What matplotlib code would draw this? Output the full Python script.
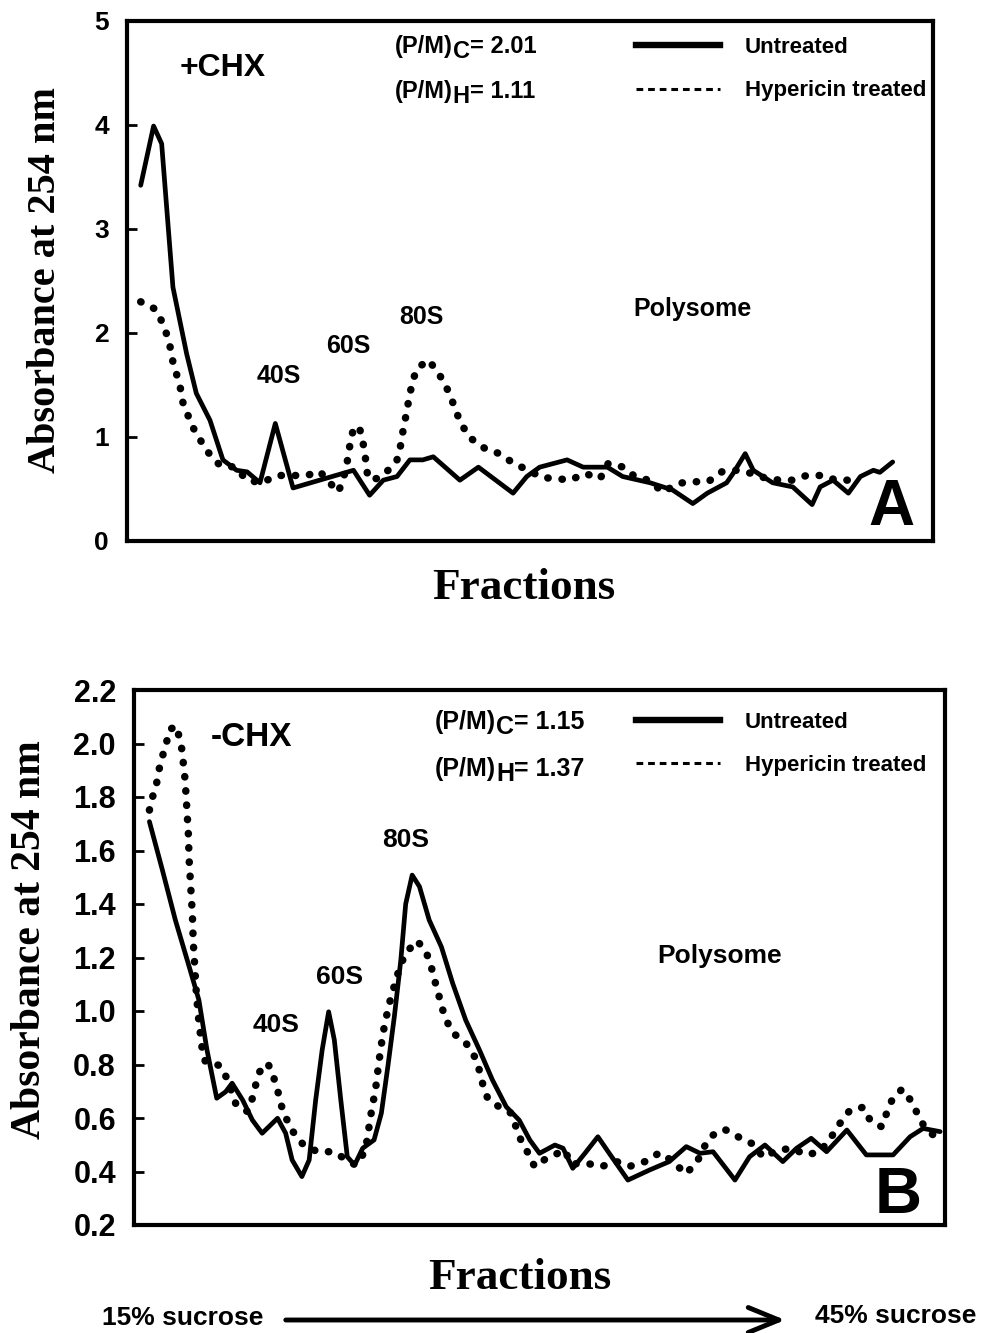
import matplotlib
matplotlib.use("Agg")
import matplotlib.pyplot as plt
from matplotlib.lines import Line2D

plt.rcParams['font.family'] = 'Liberation Sans'
plt.rcParams['font.weight'] = 'bold'

# position along the gradient (% of axis width) and A254 readings
# panel A: +CHX
a_untreated_x = [1.7, 3.3, 4.3, 5.7, 7.4, 8.6, 10.3, 11.9, 13.6, 14.9, 16.5, 18.4, 20.6, 23.9,
                 28.1, 30.1, 31.8, 33.5, 35.1, 36.7, 38.0, 41.3, 43.6, 47.9, 49.6, 51.2, 54.6,
                 56.6, 59.6, 61.5, 64.9, 67.7, 70.2, 72.0, 74.4, 75.2, 76.7, 77.7, 80.1, 82.6,
                 85.0, 86.0, 87.6, 89.5, 91.0, 92.6, 93.4, 95.0]
a_untreated_y = [3.42, 3.99, 3.82, 2.44, 1.80, 1.42, 1.16, 0.78, 0.68, 0.665, 0.56, 1.13, 0.51, 0.585,
                 0.68, 0.44, 0.585, 0.62, 0.78, 0.78, 0.81, 0.585, 0.71, 0.46, 0.62, 0.71, 0.78,
                 0.71, 0.71, 0.62, 0.56, 0.49, 0.36, 0.46, 0.56, 0.65, 0.84, 0.68, 0.56, 0.52,
                 0.35, 0.52, 0.585, 0.46, 0.62, 0.68, 0.66, 0.76]
a_hyp_x = [1.7, 3.5, 4.4, 5.0, 5.4, 5.7, 6.2, 6.6, 6.9, 7.5, 8.2, 9.1, 10.1, 11.5, 13.4, 14.9,
           16.7, 18.6, 20.4, 22.3, 23.9, 26.2, 26.8, 27.2, 27.5, 27.7, 28.1, 28.8, 29.2, 29.5,
           29.7, 29.9, 31.0, 32.4, 33.5, 33.9, 34.2, 34.5, 34.8, 35.1, 35.4, 36.0, 37.4, 38.6,
           39.5, 40.2, 40.8, 41.5, 42.6, 44.4, 46.2, 48.0, 49.8, 51.5, 53.3, 55.0, 56.8, 58.7,
           59.7, 61.6, 63.0, 64.7, 66.5, 68.4, 70.3, 72.1, 73.8, 75.6, 77.5, 79.4, 81.0, 82.7,
           84.3, 86.2, 88.0, 89.7]
a_hyp_y = [2.30, 2.23, 2.10, 1.97, 1.85, 1.72, 1.59, 1.48, 1.34, 1.22, 1.09, 0.97, 0.85, 0.73, 0.71, 0.585,
           0.56, 0.63, 0.63, 0.63, 0.67, 0.47, 0.585, 0.71, 0.84, 0.95, 1.08, 1.10, 0.98, 0.85,
           0.72, 0.60, 0.60, 0.68, 0.78, 0.90, 1.04, 1.16, 1.29, 1.41, 1.53, 1.66, 1.74, 1.62,
           1.50, 1.38, 1.25, 1.12, 0.99, 0.89, 0.84, 0.745, 0.68, 0.61, 0.60, 0.585, 0.65, 0.60,
           0.745, 0.71, 0.62, 0.585, 0.47, 0.555, 0.57, 0.57, 0.665, 0.68, 0.65, 0.60, 0.585, 0.585,
           0.63, 0.63, 0.585, 0.585]

# panel B: -CHX
b_untreated_x = [1.9, 3.5, 5.1, 6.8, 8.0, 9.0, 10.2, 11.3, 12.1, 13.4, 14.6, 15.8, 17.7, 18.7,
                 19.5, 20.7, 21.6, 22.4, 23.2, 24.0, 24.7, 25.5, 26.3, 27.2, 28.2, 29.6, 30.5,
                 31.3, 32.1, 32.9, 33.5, 34.3, 35.2, 36.4, 37.9, 39.3, 40.9, 42.6, 44.2, 45.9,
                 47.5, 48.8, 50.0, 51.9, 52.9, 54.1, 55.6, 57.2, 58.6, 60.9, 63.6, 66.0, 68.1,
                 69.8, 71.4, 74.1, 75.9, 77.8, 80.0, 81.7, 83.5, 85.4, 87.9, 90.3, 93.6, 95.7,
                 97.3, 99.4]
b_untreated_y = [1.708, 1.527, 1.34, 1.166, 1.041, 0.854, 0.674, 0.698, 0.730, 0.667, 0.592, 0.543, 0.599, 0.543,
                 0.443, 0.381, 0.443, 0.667, 0.854, 0.997, 0.892, 0.667, 0.455, 0.424, 0.487, 0.518, 0.618,
                 0.792, 0.979, 1.19, 1.40, 1.508, 1.465, 1.34, 1.24, 1.103, 0.966, 0.854, 0.742, 0.642,
                 0.592, 0.518, 0.468, 0.499, 0.487, 0.412, 0.468, 0.530, 0.468, 0.368, 0.406, 0.437, 0.493,
                 0.468, 0.474, 0.368, 0.455, 0.499, 0.437, 0.487, 0.524, 0.474, 0.555, 0.462, 0.462, 0.530,
                 0.561, 0.549]
b_hyp_x = [1.9, 2.3, 2.8, 3.1, 3.5, 4.0, 4.4, 5.3, 5.6, 6.0, 6.1, 6.3, 6.4, 6.5, 6.7, 6.8,
           7.0, 7.2, 7.3, 7.5, 7.7, 8.0, 8.4, 8.8, 10.6, 11.5, 12.6, 14.0, 14.6, 15.0, 15.5,
           16.5, 17.2, 17.7, 18.1, 18.7, 19.5, 20.8, 22.6, 24.5, 26.3, 27.3, 28.2, 28.7, 29.2,
           29.8, 30.2, 30.7, 31.4, 32.3, 32.8, 33.5, 34.9, 36.0, 36.6, 37.0, 37.5, 37.9, 38.5,
           39.3, 41.0, 42.0, 42.6, 43.0, 43.6, 45.0, 46.5, 47.1, 47.7, 48.6, 49.4, 50.7, 53.1,
           53.9, 55.8, 57.6, 59.5, 61.2, 63.0, 64.8, 66.5, 68.0, 69.4, 70.2, 71.2, 72.8, 74.6,
           76.3, 77.6, 79.2, 81.1, 82.9, 84.6, 86.0, 87.0, 88.3, 89.9, 90.8, 92.2, 92.8, 93.5,
           94.7, 95.9, 96.7, 97.5, 99.0]
b_hyp_y = [1.751, 1.801, 1.853, 1.904, 1.951, 2.003, 2.053, 2.065, 2.016, 1.966, 1.916, 1.866, 1.816, 1.764, 1.664, 1.564,
           1.461, 1.361, 1.262, 1.162, 1.06, 0.96, 0.86, 0.81, 0.796, 0.746, 0.649, 0.624, 0.674, 0.723, 0.773,
           0.805, 0.754, 0.705, 0.652, 0.603, 0.553, 0.503, 0.474, 0.474, 0.443, 0.424, 0.462, 0.511, 0.611,
           0.711, 0.810, 0.917, 1.019, 1.116, 1.166, 1.216, 1.263, 1.222, 1.172, 1.122, 1.07, 1.019, 0.966,
           0.919, 0.877, 0.829, 0.777, 0.727, 0.674, 0.642, 0.618, 0.567, 0.518, 0.468, 0.418, 0.446, 0.480,
           0.428, 0.431, 0.418, 0.437, 0.42, 0.437, 0.47, 0.437, 0.391, 0.433, 0.487, 0.533, 0.558, 0.528,
           0.503, 0.453, 0.478, 0.487, 0.462, 0.474, 0.530, 0.578, 0.630, 0.640, 0.59, 0.567, 0.618, 0.670,
           0.708, 0.661, 0.609, 0.565, 0.524]

a_ratios = ['2.01', '1.11']
b_ratios = ['1.15', '1.37']
legend_labels = ['Untreated', 'Hypericin treated']

fig = plt.figure(figsize=(9.84, 13.33), dpi=100)

SERIF = 'Liberation Serif'


def pm_text(ax, x, y, sub, value, size):
    t1 = ax.text(x, y, '(P/M)', transform=ax.transAxes, fontsize=size, va='center', ha='left')
    t2 = ax.annotate(sub, xy=(1, 0), xycoords=t1, xytext=(0, -5), textcoords='offset pixels',
                     fontsize=size, va='bottom', ha='left')
    ax.annotate('= ' + value, xy=(1, 0), xycoords=t2, xytext=(0, 5), textcoords='offset pixels',
                fontsize=size, va='bottom', ha='left')


def panel(rect, xs_u, ys_u, xs_h, ys_h, ylim, yticks, ticksize):
    ax = fig.add_axes(rect)
    ax.plot(xs_u, ys_u, color='black', lw=3.4, solid_joinstyle='round', solid_capstyle='round')
    ax.plot(xs_h, ys_h, color='black', lw=5.4, linestyle=(0, (0.05, 1.85)),
            dash_capstyle='round')
    ax.set_xlim(0, 100)
    ax.set_ylim(*ylim)
    ax.set_xticks([])
    ax.set_yticks(yticks)
    ax.tick_params(axis='y', direction='in', length=7, width=2, pad=13, labelsize=ticksize)
    for s in ax.spines.values():
        s.set_linewidth(3)
    return ax


handles = [Line2D([], [], color='black', lw=4.6),
           Line2D([], [], color='black', lw=2.2, linestyle=(0, (2.2, 1.6)))]

# ---- panel A ----
axA = panel([127 / 984, 1 - 541 / 1333, 806 / 984, 520 / 1333],
            a_untreated_x, a_untreated_y, a_hyp_x, a_hyp_y,
            (0, 5), [0, 1, 2, 3, 4, 5], 19)
axA.set_yticklabels(['0', '1', '2', '3', '4', '5'])
axA.text(0.119, 0.910, '+CHX', transform=axA.transAxes, fontsize=23, ha='center', va='center')
pm_text(axA, 0.3325, 0.950, 'C', a_ratios[0], 17)
pm_text(axA, 0.3325, 0.864, 'H', a_ratios[1], 17)
for lab, x, y in [('40S', 0.1886, 0.3167), ('60S', 0.2742, 0.3743), ('80S', 0.3648, 0.4299),
                  ('Polysome', 0.7022, 0.4453)]:
    axA.text(x, y, lab, transform=axA.transAxes, fontsize=18, ha='center', va='center')
axA.text(0.949, 0.063, 'A', transform=axA.transAxes, fontsize=46, ha='center', va='center')
axA.text(0.4926, -0.0902, 'Fractions', transform=axA.transAxes, fontsize=32.5, ha='center',
         va='center', family=SERIF)
axA.text(-0.1017, 0.501, 'Absorbance at 254 nm', transform=axA.transAxes, fontsize=29,
         ha='center', va='center', rotation=90, family=SERIF)
axA.legend(handles, legend_labels, loc='center left', bbox_to_anchor=(0.6315, 0.907),
           frameon=False, fontsize=16, handlelength=3.8, handletextpad=1.1,
           labelspacing=1.0, borderpad=0, borderaxespad=0)

# ---- panel B ----
axB = panel([134 / 984, 1 - 1225 / 1333, 811 / 984, 535 / 1333],
            b_untreated_x, b_untreated_y, b_hyp_x, b_hyp_y,
            (0.2, 2.2), [0.2 + 0.2 * i for i in range(11)], 22)
axB.set_yticklabels(['%.1f' % (0.2 + 0.2 * i) for i in range(11)])
axB.text(0.1443, 0.912, '-CHX', transform=axB.transAxes, fontsize=24, ha='center', va='center')
pm_text(axB, 0.371, 0.940, 'C', b_ratios[0], 18)
pm_text(axB, 0.371, 0.852, 'H', b_ratios[1], 18)
for lab, x, y in [('40S', 0.175, 0.374), ('60S', 0.2528, 0.4636), ('80S', 0.3354, 0.7196),
                  ('Polysome', 0.7226, 0.5028)]:
    axB.text(x, y, lab, transform=axB.transAxes, fontsize=19, ha='center', va='center')
axB.text(0.942, 0.054, 'B', transform=axB.transAxes, fontsize=47, ha='center', va='center')
axB.text(0.476, -0.099, 'Fractions', transform=axB.transAxes, fontsize=32.5, ha='center',
         va='center', family=SERIF)
axB.text(-0.128, 0.533, 'Absorbance at 254 nm', transform=axB.transAxes, fontsize=30,
         ha='center', va='center', rotation=90, family=SERIF)
axB.legend(handles, legend_labels, loc='center left', bbox_to_anchor=(0.619, 0.899),
           frameon=False, fontsize=16, handlelength=3.8, handletextpad=1.1,
           labelspacing=1.0, borderpad=0, borderaxespad=0)

# gradient direction
fig.text(183 / 984, 1 - 1318 / 1333, '15% sucrose', fontsize=19, ha='center', va='center')
fig.text(896 / 984, 1 - 1316 / 1333, '45% sucrose', fontsize=19, ha='center', va='center')
fig.add_artist(matplotlib.patches.FancyArrowPatch(
    (283 / 984, 1 - 1320 / 1333), (788 / 984, 1 - 1320 / 1333), transform=fig.transFigure,
    arrowstyle='->, head_length=22, head_width=9', lw=3.5, color='black', mutation_scale=1))

fig.savefig('out.png', dpi=100)
